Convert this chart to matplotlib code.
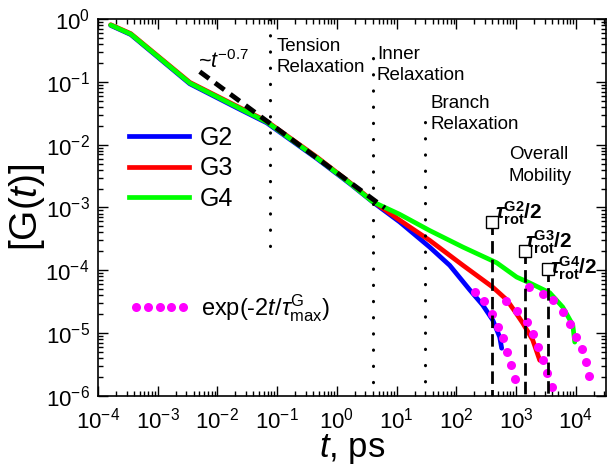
import numpy as np
import matplotlib.pyplot as plt
from matplotlib.ticker import LogLocator, NullFormatter
from matplotlib.lines import Line2D

plt.rcParams['font.family'] = ['Liberation Sans', 'DejaVu Sans']
plt.rcParams['mathtext.fontset'] = 'custom'
plt.rcParams['mathtext.rm'] = 'Liberation Sans'
plt.rcParams['mathtext.it'] = 'Liberation Sans:italic'
plt.rcParams['mathtext.bf'] = 'Liberation Sans:bold'
plt.rcParams['mathtext.bfit'] = 'Liberation Sans:italic:bold'

# curves (t in ps)
t_g2 = [1.63e-4, 3.53e-4, 3.44e-3, 0.0211, 0.067, 0.461, 1.64, 3.99,
        11.2, 35.7, 77.3, 167, 276, 406, 531, 574]
G_g2 = [0.79, 0.565, 0.093, 0.0385, 0.0222, 6.0e-3, 2.4e-3, 1.22e-3,
        5.9e-4, 2.34e-4, 1.2e-4, 4.9e-5, 2.8e-5, 1.62e-5, 8.7e-6, 5.75e-6]

t_g3 = [1.63e-4, 3.53e-4, 3.44e-3, 0.0211, 0.067, 0.461, 1.64, 3.99,
        11.2, 35.7, 129, 406, 697, 948, 1291, 1897, 2488]
G_g3 = [0.81, 0.585, 0.098, 0.041, 0.0235, 6.35e-3, 2.5e-3, 1.26e-3,
        6.3e-4, 3.0e-4, 1.2e-4, 5.4e-5, 3.4e-5, 2.24e-5, 1.45e-5, 7.8e-6, 3.7e-6]

t_g4 = [1.63e-4, 3.53e-4, 3.44e-3, 0.0211, 0.067, 0.461, 1.64, 3.99,
        11.2, 35.7, 129, 473, 1023, 1690, 3656, 6039, 8892, 9600]
G_g4 = [0.80, 0.575, 0.0955, 0.0398, 0.0229, 6.17e-3, 2.45e-3, 1.23e-3,
        7.8e-4, 4.3e-4, 2.34e-4, 1.32e-4, 7.8e-5, 6.3e-5, 4.4e-5, 2.6e-5, 1.35e-5, 7.2e-6]

# exp(-2t/tau_max) points
t_fit2 = [204, 289, 394, 496, 601, 702, 819, 955]
G_fit2 = [4.5e-5, 3.2e-5, 2.0e-5, 1.26e-5, 8.3e-6, 5.0e-6, 3.1e-6, 1.86e-6]
t_fit3 = [675, 1030, 1517, 1897, 2318, 2812, 3281, 3981]
G_fit3 = [3.2e-5, 2.24e-5, 1.51e-5, 9.8e-6, 6.0e-6, 3.7e-6, 2.34e-6, 1.38e-6]
t_fit4 = [1637, 2812, 4140, 6085, 7966, 10040, 12670, 14790, 16570]
G_fit4 = [5.4e-5, 4.2e-5, 3.4e-5, 2.2e-5, 1.41e-5, 8.7e-6, 5.6e-6, 3.5e-6, 2.1e-6]

# power law guide ~t^-0.7
t_pow = [5.05e-3, 6.34]
G_pow = [0.145, 9.8e-4]

# regime boundaries
t_regime = [0.0757, 3.99, 29.7]
G_regime_top = [1.0, 0.24, 0.023]
G_regime_bot = [2.1e-4, 1e-6, 1e-6]

# tau_rot/2
t_rot = [394, 1403, 3412]
G_rot = [5.9e-4, 2.0e-4, 1.05e-4]
rot_labels = ['G2', 'G3', 'G4']

fig = plt.figure(figsize=(6.08, 4.65), dpi=100)
ax = fig.add_axes([0.1612, 0.1484, 0.8355, 0.8108])

ax.plot(t_g2, G_g2, color='#0000ff', lw=3.4, solid_capstyle='round')
ax.plot(t_g3, G_g3, color='#ff0000', lw=3.4, solid_capstyle='round')
ax.plot(t_g4, G_g4, color='#00ff00', lw=3.4, solid_capstyle='round')

for tf, gf in [(t_fit2, G_fit2), (t_fit3, G_fit3), (t_fit4, G_fit4)]:
    ax.plot(tf, gf, 'o', color='#ff00ff', ms=6.5, mec='none')

ax.plot(t_pow, G_pow, color='black', lw=3.5, dashes=(2.4, 1.5))

for tx, top, bot in zip(t_regime, G_regime_top, G_regime_bot):
    ax.plot([tx, tx], [top, bot], color='black', lw=2.2,
            linestyle=(0, (0.1, 5.2)), dash_capstyle='round')

for tx, gy in zip(t_rot, G_rot):
    ax.plot([tx, tx], [gy, 1e-6], color='black', lw=2.0, dashes=(4.5, 2.2))
    ax.plot(tx, gy, 's', ms=8, mfc='white', mec='black', mew=1.0)

# text
ax.text(0.0977, 0.248, 'Tension\nRelaxation', fontsize=13.5, ha='left', va='center', linespacing=1.3)
ax.text(4.66, 0.185, 'Inner\nRelaxation', fontsize=13.5, ha='left', va='center', linespacing=1.35)
ax.text(37.4, 0.0305, 'Branch\nRelaxation', fontsize=13.5, ha='left', va='center', linespacing=1.35)
ax.text(759, 0.0047, 'Overall\nMobility', fontsize=13.5, ha='left', va='center', linespacing=1.35)
ax.text(4.68e-3, 0.207, r'~$t^{-0.7}$', fontsize=15.5, ha='left', va='center')

rot_pos = [(442, 6.56e-4), (1403, 2.26e-4), (3681, 8.7e-5)]
for (tx, gy), lab in zip(rot_pos, rot_labels):
    ax.text(tx, gy, r'$\mathbfit{\tau}^{\mathbf{%s}}_{\mathbf{rot}}\mathbf{/2}$' % lab,
            fontsize=15, ha='left', va='baseline')

ax.set_xscale('log')
ax.set_yscale('log')
ax.set_xlim(1e-4, 3.2e4)
ax.set_ylim(1e-6, 1)

for axis in (ax.xaxis, ax.yaxis):
    axis.set_major_locator(LogLocator(base=10, numticks=30))
    axis.set_minor_locator(LogLocator(base=10, subs=np.arange(2, 10), numticks=300))
    axis.set_minor_formatter(NullFormatter())

ax.tick_params(which='both', direction='in', top=True, right=True, width=1.0)
ax.tick_params(which='major', length=7, labelsize=16)
ax.tick_params(axis='x', which='major', pad=8)
ax.tick_params(axis='y', which='major', pad=6)
ax.tick_params(which='minor', length=3.5)
for sp in ax.spines.values():
    sp.set_linewidth(1.2)

ax.set_xlabel(r'$t$, ps', fontsize=25, labelpad=-1)
ax.set_ylabel(r'[G($t$)]', fontsize=28, labelpad=-1)

h_lines = [Line2D([], [], color=c, lw=3.4) for c in ['#0000ff', '#ff0000', '#00ff00']]
leg1 = ax.legend(h_lines, ['G2', 'G3', 'G4'], loc='upper left', bbox_to_anchor=(0.061, 0.716),
                 frameon=False, fontsize=18, handlelength=2.4, handletextpad=0.45,
                 labelspacing=0.25, borderpad=0, borderaxespad=0)
ax.add_artist(leg1)
h_dot = Line2D([], [], color='#ff00ff', marker='o', ms=6.5, mec='none', linestyle='none')
ax.legend([h_dot], [r'exp(-2$t$/$\tau^{\mathrm{G}}_{\mathrm{max}}$)'], loc='center left',
          bbox_to_anchor=(0.061, 0.233), frameon=False, fontsize=17, numpoints=5,
          handlelength=2.6, handletextpad=0.45, borderpad=0, borderaxespad=0)

fig.savefig('out.png', dpi=100)
